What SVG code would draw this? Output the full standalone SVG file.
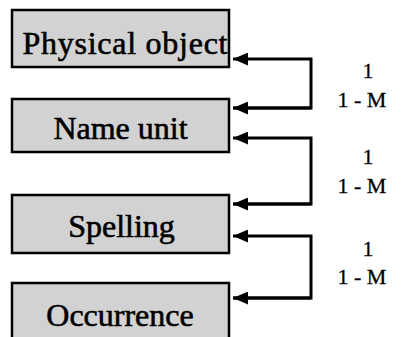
<svg xmlns="http://www.w3.org/2000/svg" width="401" height="337" viewBox="0 0 401 337">
<style>
.box{fill:#d2d2d2;stroke:#000;stroke-width:2.5}
.lbl{font-family:"Liberation Serif","Times New Roman",serif;font-size:32px;fill:#000;stroke:#000;stroke-width:0.6;text-anchor:middle}
.card{font-family:"Liberation Serif","Times New Roman",serif;font-size:22px;fill:#000;stroke:#000;stroke-width:0.3;text-anchor:middle}
.conn{fill:none;stroke:#000;stroke-width:3}
</style>
<defs>
<marker id="ah" markerWidth="15" markerHeight="13" refX="15" refY="6.5" orient="auto" markerUnits="userSpaceOnUse">
<path d="M0,0 L15,6.5 L0,13 Z" fill="#000"/>
</marker>
</defs>
<rect width="401" height="337" fill="#fff"/>
<g id="physical-object">
<rect class="box" x="12" y="10" width="217" height="57"/>
<text class="lbl" x="125" y="54" textLength="205" lengthAdjust="spacing">Physical  object</text>
</g>
<g id="name-unit">
<rect class="box" x="12" y="99" width="217" height="53"/>
<text class="lbl" x="120.5" y="139">Name unit</text>
</g>
<g id="spelling">
<rect class="box" x="12" y="195" width="217" height="58"/>
<text class="lbl" x="121.5" y="237">Spelling</text>
</g>
<g id="occurrence">
<rect class="box" x="12" y="283" width="217" height="60"/>
<text class="lbl" x="120" y="326">Occurrence</text>
</g>
<g id="connectors">
<path class="conn" d="M233,108 L311,108 L311,59 L233,59" marker-end="url(#ah)"/>
<path class="conn" d="M311,108 L233,108" marker-end="url(#ah)"/>
<path class="conn" d="M233,204 L311,204 L311,138 L233,138" marker-end="url(#ah)"/>
<path class="conn" d="M311,204 L233,204" marker-end="url(#ah)"/>
<path class="conn" d="M233,298 L311,298 L311,236 L233,236" marker-end="url(#ah)"/>
<path class="conn" d="M311,298 L233,298" marker-end="url(#ah)"/>
</g>
<g id="cardinalities">
<text class="card" x="368" y="78">1</text>
<text class="card" x="362" y="107">1 - M</text>
<text class="card" x="368" y="164">1</text>
<text class="card" x="362" y="193">1 - M</text>
<text class="card" x="368" y="256">1</text>
<text class="card" x="362" y="284">1 - M</text>
</g>
</svg>
